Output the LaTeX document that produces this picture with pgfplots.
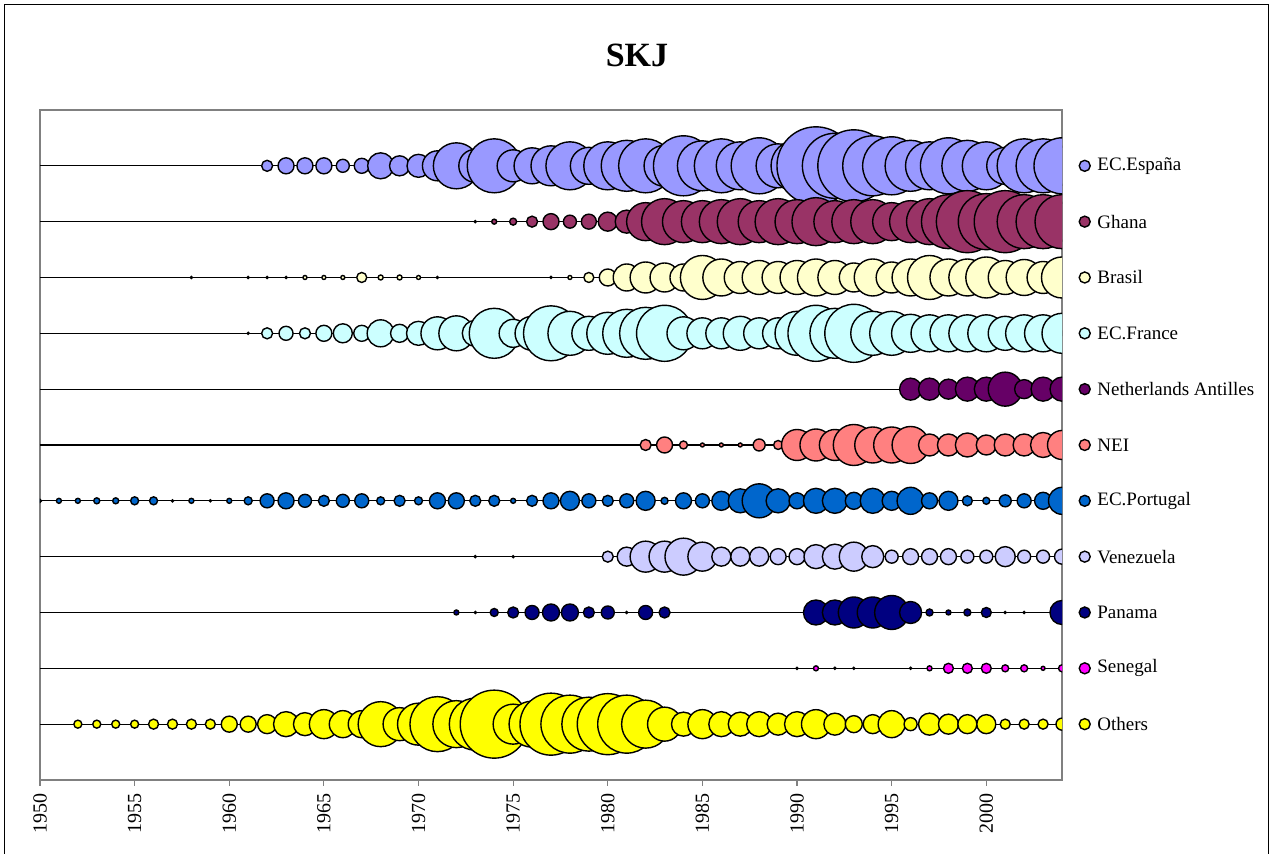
\documentclass[border=0pt]{standalone}
\usepackage{fontspec}
\setmainfont{Liberation Serif}
\usepackage{pgfplots}
\usepackage{pgfplotstable}
\pgfplotsset{compat=1.18}
\definecolor{cEsp}{HTML}{9999FF}
\definecolor{cGha}{HTML}{993366}
\definecolor{cBra}{HTML}{FFFFCC}
\definecolor{cFra}{HTML}{CCFFFF}
\definecolor{cNA}{HTML}{660066}
\definecolor{cNEI}{HTML}{FF8080}
\definecolor{cPor}{HTML}{0066CC}
\definecolor{cVen}{HTML}{CCCCFF}
\definecolor{cPan}{HTML}{000080}
\definecolor{cSen}{HTML}{FF00FF}
\definecolor{cOth}{HTML}{FFFF00}

\pgfplotstableread{
x d
1962 11
1963 16
1964 16
1965 16
1966 13
1967 15
1968 26
1969 20
1970 23
1971 30
1972 46
1973 33
1974 54
1975 32
1976 36
1977 40
1978 48
1979 37
1980 48
1981 51
1982 54
1983 41
1984 60
1985 50
1986 54
1987 48
1988 56
1989 44
1990 52
1991 78
1992 65
1993 72
1994 60
1995 58
1996 51
1997 48
1998 56
1999 51
2000 48
2001 37
2002 54
2003 54
2004 56
}\tEsp

\pgfplotstableread{
x d
1973 2
1974 5
1975 7
1976 11
1977 16
1978 13
1979 15
1980 19
1981 23
1982 38
1983 46
1984 42
1985 42
1986 44
1987 46
1988 42
1989 46
1990 44
1991 48
1992 42
1993 44
1994 44
1995 38
1996 42
1997 46
1998 54
1999 62
2000 56
2001 62
2002 54
2003 54
2004 54
}\tGha

\pgfplotstableread{
x d
1958 2
1961 2
1962 2
1963 2
1964 4
1965 4
1966 4
1967 10
1968 5
1969 5
1970 4
1971 2
1977 2
1978 4
1979 10
1980 17
1981 27
1982 31
1983 29
1984 27
1985 44
1986 37
1987 32
1988 34
1989 32
1990 34
1991 37
1992 34
1993 29
1994 37
1995 31
1996 37
1997 44
1998 37
1999 37
2000 41
2001 34
2002 36
2003 32
2004 41
}\tBra

\pgfplotstableread{
x d
1961 2
1962 11
1963 14
1964 11
1965 16
1966 19
1967 16
1968 27
1969 18
1970 24
1971 33
1972 35
1973 26
1974 50
1975 28
1976 34
1977 55
1978 44
1979 34
1980 42
1981 48
1982 52
1983 56
1984 33
1985 31
1986 31
1987 34
1988 31
1989 31
1990 44
1991 56
1992 50
1993 58
1994 44
1995 44
1996 38
1997 37
1998 37
1999 37
2000 37
2001 34
2002 37
2003 37
2004 40
}\tFra

\pgfplotstableread{
x d
1996 22
1997 22
1998 20
1999 24
2000 24
2001 34
2002 19
2003 24
2004 24
}\tNA

\pgfplotstableread{
x d
1982 11
1983 16
1984 8
1985 4
1986 4
1987 4
1988 12
1989 9
1990 31
1991 32
1992 31
1993 41
1994 36
1995 36
1996 37
1997 22
1998 22
1999 24
2000 20
2001 22
2002 22
2003 25
2004 29
}\tNEI

\pgfplotstableread{
x d
1950 3
1951 5
1952 5
1953 6
1954 6
1955 8
1956 8
1957 2
1958 5
1959 2
1960 5
1961 8
1962 14
1963 16
1964 13
1965 11
1966 13
1967 14
1968 8
1969 11
1970 8
1971 16
1972 16
1973 11
1974 11
1975 5
1976 11
1977 16
1978 19
1979 14
1980 11
1981 14
1982 19
1983 7
1984 16
1985 14
1986 19
1987 24
1988 34
1989 24
1990 16
1991 25
1992 25
1993 17
1994 25
1995 19
1996 27
1997 16
1998 19
1999 10
2000 7
2001 12
2002 14
2003 17
2004 27
}\tPor

\pgfplotstableread{
x d
1973 2
1975 2
1980 11
1981 19
1982 31
1983 31
1984 37
1985 29
1986 19
1987 19
1988 19
1989 16
1990 16
1991 24
1992 25
1993 29
1994 22
1995 13
1996 16
1997 16
1998 16
1999 13
2000 13
2001 20
2002 13
2003 13
2004 15
}\tVen

\pgfplotstableread{
x d
1972 5
1973 2
1974 8
1975 11
1976 14
1977 17
1978 17
1979 11
1980 13
1981 2
1982 14
1983 11
1991 25
1992 25
1993 31
1994 31
1995 34
1996 22
1997 7
1998 5
1999 7
2000 10
2001 2
2002 2
2004 24
}\tPan

\pgfplotstableread{
x d
1990 2
1991 5
1992 2
1993 2
1996 2
1997 5
1998 10
1999 10
2000 10
2001 7
2002 7
2003 4
2004 7
}\tSen

\pgfplotstableread{
x d
1952 8
1953 8
1954 8
1955 8
1956 10
1957 10
1958 10
1959 10
1960 16
1961 16
1962 19
1963 25
1964 23
1965 29
1966 27
1967 27
1968 45
1969 33
1970 42
1971 55
1972 47
1973 52
1974 68
1975 40
1976 46
1977 62
1978 58
1979 54
1980 61
1981 58
1982 48
1983 34
1984 24
1985 29
1986 25
1987 24
1988 25
1989 22
1990 25
1991 29
1992 22
1993 17
1994 19
1995 27
1996 13
1997 22
1998 20
1999 19
2000 19
2001 10
2002 10
2003 10
2004 12
}\tOth

\pgfplotsset{
  bub/.style={scatter, only marks, mark=*, line width=0.7pt,
    scatter/use mapped color={draw=black, fill=#1},
    visualization depends on={\thisrow{d}/4 \as \rad},
    scatter/@pre marker code/.append style={/tikz/mark size=\rad}},
  rowline/.style={black, line width=0.6pt, mark=none},
  legmark/.style={only marks, mark=*, mark size=2.75pt, line width=0.7pt, mark options={draw=black, fill=#1}},
}

\begin{document}
\begin{tikzpicture}
\begin{axis}[at={(0,0)}, anchor=south west, scale only axis,
  width=511pt, height=335pt,
  xmin=1950, xmax=2004, ymin=0, ymax=12,
  clip marker paths=true,
  axis line style={gray, line width=0.8pt},
  xtick={1950,1955,...,2000},
  ytick=\empty,
  tick align=outside, major tick length=3pt,
  tick style={gray, line width=0.6pt},
  xtick pos=bottom,
  xticklabel style={rotate=90, anchor=east, font=\fontsize{10}{11}\selectfont},
  /pgf/number format/1000 sep={},
  /pgf/number format/assume math mode=true,
]
\addplot[rowline] coordinates {(1950,11) (2004,11)};
\addplot[rowline] coordinates {(1950,10) (2004,10)};
\addplot[rowline] coordinates {(1950,9) (2004,9)};
\addplot[rowline] coordinates {(1950,8) (2004,8)};
\addplot[rowline] coordinates {(1950,7) (2004,7)};
\addplot[rowline] coordinates {(1950,6) (2004,6)};
\addplot[rowline] coordinates {(1950,5) (2004,5)};
\addplot[rowline] coordinates {(1950,4) (2004,4)};
\addplot[rowline] coordinates {(1950,3) (2004,3)};
\addplot[rowline] coordinates {(1950,2) (2004,2)};
\addplot[rowline] coordinates {(1950,1) (2004,1)};
\addplot[bub=cEsp] table[x=x, y expr=11] {\tEsp};
\addplot[bub=cGha] table[x=x, y expr=10] {\tGha};
\addplot[bub=cBra] table[x=x, y expr=9] {\tBra};
\addplot[bub=cFra] table[x=x, y expr=8] {\tFra};
\addplot[bub=cNA] table[x=x, y expr=7] {\tNA};
\addplot[bub=cNEI] table[x=x, y expr=6] {\tNEI};
\addplot[bub=cPor] table[x=x, y expr=5] {\tPor};
\addplot[bub=cVen] table[x=x, y expr=4] {\tVen};
\addplot[bub=cPan] table[x=x, y expr=3] {\tPan};
\addplot[bub=cSen] table[x=x, y expr=2] {\tSen};
\addplot[bub=cOth] table[x=x, y expr=1] {\tOth};
\end{axis}
\begin{axis}[at={(0,0)}, anchor=south west, scale only axis,
  width=511pt, height=335pt,
  xmin=1950, xmax=2004, ymin=0, ymax=12, hide axis, clip=false]
\addplot[legmark=cEsp] coordinates {(2005.2,11)};
\addplot[legmark=cGha] coordinates {(2005.2,10)};
\addplot[legmark=cBra] coordinates {(2005.2,9)};
\addplot[legmark=cFra] coordinates {(2005.2,8)};
\addplot[legmark=cNA] coordinates {(2005.2,7)};
\addplot[legmark=cNEI] coordinates {(2005.2,6)};
\addplot[legmark=cPor] coordinates {(2005.2,5)};
\addplot[legmark=cVen] coordinates {(2005.2,4)};
\addplot[legmark=cPan] coordinates {(2005.2,3)};
\addplot[legmark=cSen] coordinates {(2005.2,2)};
\addplot[legmark=cOth] coordinates {(2005.2,1)};
\begin{scope}[every node/.style={anchor=west, inner sep=0pt, font=\fontsize{9.5}{11}\selectfont}]
\node at (axis cs:2005.85,11) {EC.España};
\node at (axis cs:2005.85,10) {Ghana};
\node at (axis cs:2005.85,9) {Brasil};
\node at (axis cs:2005.85,8) {EC.France};
\node at (axis cs:2005.85,7) {Netherlands Antilles};
\node at (axis cs:2005.85,6) {NEI};
\node at (axis cs:2005.85,5) {EC.Portugal};
\node at (axis cs:2005.85,4) {Venezuela};
\node at (axis cs:2005.85,3) {Panama};
\node at (axis cs:2005.85,2) {Senegal};
\node at (axis cs:2005.85,1) {Others};
\end{scope}
\end{axis}
\node[font=\bfseries\fontsize{17}{20}\selectfont] at (298.5pt,362.5pt) {SKJ};
\draw[black, line width=0.5pt] (-17.5pt,-45pt) rectangle (614pt,387.5pt);
\pgfresetboundingbox
\path (-20pt,-37pt) rectangle (617pt,390pt);
\end{tikzpicture}
\end{document}
